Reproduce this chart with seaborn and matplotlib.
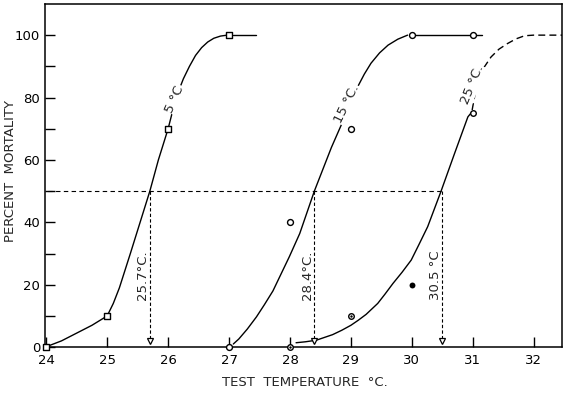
import matplotlib
matplotlib.use("Agg")
import matplotlib.pyplot as plt
import seaborn as sns

# observed points (test temperature, percent mortality)
temp_5 = [24, 25, 26, 27]
mort_5 = [0, 10, 70, 100]
temp_15 = [27, 28, 29, 30, 31]
mort_15 = [0, 40, 70, 100, 100]
temp_25_open = [28, 29, 31]
mort_25_open = [0, 10, 75]
temp_25_filled = [30]
mort_25_filled = [20]

# fitted curves
curve5_x = [24.05, 24.25, 24.5, 24.75, 25.0, 25.1, 25.2, 25.38, 25.54, 25.7, 25.84, 26.0, 26.13,
            26.25, 26.35, 26.45, 26.55, 26.65, 26.75, 26.86, 26.97]
curve5_y = [0.5, 2.0, 4.5, 7.0, 10, 14, 19, 30, 40, 50, 60, 70, 80,
            86, 90, 93.5, 96, 97.8, 99, 99.7, 100]
tail5_x = [27.07, 27.45]
tail5_y = [100, 100]

curve15_x = [27.07, 27.16, 27.3, 27.45, 27.58, 27.72, 27.85, 27.99, 28.16, 28.4, 28.68, 28.9,
             29.11, 29.22, 29.33, 29.47, 29.61, 29.77, 29.93]
curve15_y = [1, 2.6, 5.8, 9.7, 13.6, 18, 23.3, 29, 36.4, 50, 64, 73.8,
             83.4, 87.5, 91, 94.3, 96.8, 98.7, 100]
tail15_x = [30.0, 31.15]
tail15_y = [100, 100]

curve25_x = [28.1, 28.25, 28.43, 28.55, 28.7, 28.85, 29.0, 29.12, 29.25, 29.44, 29.56, 29.69,
             29.84, 29.99, 30.12, 30.26, 30.48, 30.7, 30.92, 30.97]
curve25_y = [1.4, 1.7, 2.2, 3.0, 4.0, 5.4, 7.0, 8.6, 10.5, 14, 17, 20.4,
             24, 27.9, 33, 38.6, 50, 62, 73.8, 75]
dash25_x = [30.99, 31.08, 31.19, 31.3, 31.43, 31.57, 31.71, 31.85, 32.0, 32.47]
dash25_y = [76, 85.6, 89.8, 93, 95.5, 97.3, 98.8, 99.8, 100, 100]

# LT50 values
lt50 = [25.7, 28.4, 30.5]
lt50_labels = ["25.7°C.", "28.4°C.", "30.5 °C"]

sns.set_style("ticks")
plt.rcParams['font.family'] = ['DejaVu Sans']

fig = plt.figure(figsize=(5.68, 3.94), dpi=100)
ax = fig.add_axes([0.079, 0.119, 0.911, 0.871])

lw = 1.0
for cx, cy in [(curve5_x, curve5_y), (tail5_x, tail5_y), (curve15_x, curve15_y),
               (tail15_x, tail15_y), (curve25_x, curve25_y)]:
    sns.lineplot(x=cx, y=cy, sort=False, estimator=None, color='black', lw=lw, ax=ax)
sns.lineplot(x=dash25_x, y=dash25_y, sort=False, estimator=None, color='black',
             lw=lw, ax=ax, linestyle=(0, (5, 3)))

# reference lines at 50 %
ax.plot([23.9, lt50[-1]], [50, 50], color='black', lw=0.8, linestyle=(0, (4, 3)))
for xv in lt50:
    ax.plot([xv, xv], [50, 1.5], color='black', lw=0.8, linestyle=(0, (3, 2)))
    ax.plot([xv], [1.8], marker='v', ms=5, mfc='white', mec='black', mew=0.9, clip_on=False)

# markers
sns.scatterplot(x=temp_5, y=mort_5, marker='s', s=20, facecolor='white',
                edgecolor='black', linewidth=1.0, ax=ax, zorder=5, clip_on=False)
sns.scatterplot(x=temp_15, y=mort_15, marker='o', s=18, facecolor='white',
                edgecolor='black', linewidth=1.0, ax=ax, zorder=5, clip_on=False)
sns.scatterplot(x=temp_25_open, y=mort_25_open, marker='o', s=16, facecolor='white',
                edgecolor='black', linewidth=1.0, ax=ax, zorder=5, clip_on=False)
sns.scatterplot(x=temp_25_open[:2], y=mort_25_open[:2], marker='o', s=3, color='black',
                linewidth=0, ax=ax, zorder=6, clip_on=False)
sns.scatterplot(x=temp_25_filled, y=mort_25_filled, marker='o', s=18, color='black',
                linewidth=0, ax=ax, zorder=5)

# curve labels
ax.text(26.11, 79.5, "5 °C", rotation=66, ha='center', va='center', fontsize=9.5,
        bbox=dict(fc='white', ec='none', pad=0.5))
ax.text(28.93, 78, "15 °C.", rotation=64, ha='center', va='center', fontsize=9.5,
        bbox=dict(fc='white', ec='none', pad=0.5))
ax.text(30.99, 84, "25 °C.", rotation=68, ha='center', va='center', fontsize=9.5,
        bbox=dict(fc='white', ec='none', pad=0.5))
for xv, lab in zip(lt50, lt50_labels):
    ax.text(xv - 0.115, 23, lab, rotation=90, ha='center', va='center', fontsize=9.5)

ax.set_xlim(23.977, 32.47)
ax.set_ylim(0, 110)
ax.set_xticks(range(24, 33))
ax.set_yticks(range(0, 101, 20))
ax.set_yticks(range(10, 100, 20), minor=True)
ax.tick_params(axis='both', which='both', direction='in', length=7, width=1.0,
               labelsize=9.5, colors='black')
ax.tick_params(axis='x', pad=5)
for sp in ax.spines.values():
    sp.set_visible(True)
    sp.set_linewidth(1.1)
    sp.set_color('black')

ax.set_xlabel("")
ax.set_ylabel("")
fig.text(0.537, 0.028, "TEST  TEMPERATURE  °C.", fontsize=9.5, ha='center', va='center')
fig.text(0.019, 0.566, "PERCENT  MORTALITY", fontsize=9.5, rotation=90,
         ha='center', va='center')

fig.savefig("out.png", dpi=100)
